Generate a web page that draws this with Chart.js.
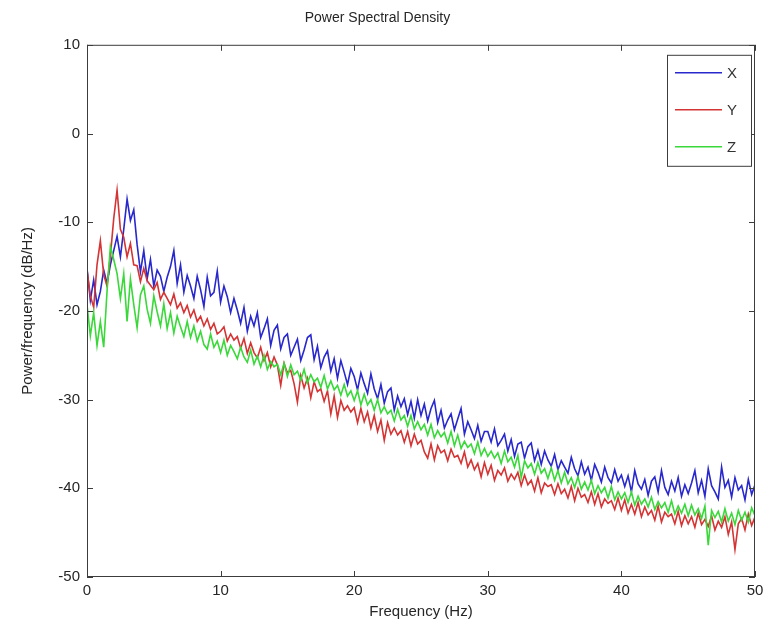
<!DOCTYPE html>
<html>
<head>
<meta charset="utf-8">
<script src="https://cdn.jsdelivr.net/npm/chart.js@4.4.0/dist/chart.umd.min.js"></script>
<style>
  html, body { margin: 0; padding: 0; background: #fff; }
  #wrap { width: 778px; height: 641px; }
</style>
</head>
<body>
<div id="wrap"><canvas id="psdChart" width="778" height="641"></canvas></div>
<script>
// frequency grid spacing (Hz) of the sampled PSD values below
var freqStep = 0.25;
var xTicks = [0, 10, 20, 30, 40, 50];
var yTicks = [-50, -40, -30, -20, -10, 0, 10];
var seriesNames = ['X', 'Y', 'Z'];

// one row = 5 Hz (20 samples), last value is 50 Hz
var psdX = [
  -15.2,-18.8,-16.5,-19.3,-17.8,-15.4,-16.9,-14.8,-13.2,-11.6,-13.9,-10.8,-7.4,-9.8,-8.6,-12.5,-15.6,-13.2,-16.4,-14.2,
  -17.2,-15.4,-16.1,-17.8,-16.2,-15.0,-13.2,-16.9,-14.8,-17.9,-16.0,-17.2,-18.6,-16.1,-17.6,-19.5,-16.2,-18.3,-17.9,-15.5,
  -19.0,-17.2,-18.4,-20.2,-18.6,-19.9,-21.4,-19.6,-22.3,-20.6,-21.7,-20.2,-23.0,-22.0,-20.9,-23.9,-22.2,-21.6,-24.3,-23.0,
  -22.6,-25.0,-24.1,-23.2,-25.6,-24.4,-23.0,-22.7,-25.5,-24.0,-26.4,-25.2,-24.5,-26.8,-25.4,-27.6,-25.6,-26.9,-28.3,-26.5,
  -27.4,-28.9,-27.0,-28.2,-29.3,-27.1,-28.8,-29.9,-28.3,-30.4,-29.1,-28.7,-31.2,-29.6,-30.8,-29.9,-31.7,-30.2,-32.1,-30.0,
  -31.8,-30.5,-32.4,-31.0,-30.1,-32.6,-31.2,-33.2,-32.3,-31.6,-33.4,-32.2,-31.0,-33.9,-32.5,-33.4,-34.4,-32.9,-34.7,-33.6,
  -33.6,-34.8,-33.3,-35.2,-34.6,-33.9,-35.8,-34.5,-36.4,-35.0,-34.8,-36.6,-35.3,-34.9,-36.9,-35.7,-37.3,-35.8,-36.8,-37.5,
  -36.2,-37.9,-36.9,-37.6,-38.3,-36.5,-37.8,-38.6,-37.0,-38.4,-37.6,-39.1,-37.3,-38.2,-39.3,-37.6,-38.8,-39.4,-37.9,-39.2,
  -38.5,-39.8,-38.6,-40.4,-38.0,-39.5,-40.1,-39.0,-40.8,-39.2,-38.7,-40.4,-38.0,-39.9,-40.7,-39.2,-40.3,-38.8,-40.9,-39.6,
  -40.6,-39.4,-38.0,-40.5,-39.1,-40.9,-37.8,-39.7,-40.4,-41.2,-37.6,-39.9,-39.1,-41.0,-38.8,-40.2,-39.7,-41.3,-39.0,-40.7,
  -39.6
];
var psdY = [
  -15.4,-18.3,-19.6,-14.8,-12.1,-15.9,-17.2,-13.8,-9.6,-6.4,-10.8,-11.7,-13.9,-12.4,-14.8,-14.9,-16.7,-15.2,-16.6,-17.1,
  -17.6,-16.8,-18.7,-17.9,-18.6,-19.3,-18.1,-19.7,-19.1,-20.2,-19.4,-20.7,-19.9,-21.2,-20.6,-21.7,-20.9,-22.1,-21.4,-22.6,
  -22.3,-21.8,-23.4,-22.6,-23.3,-22.9,-24.2,-23.1,-24.8,-23.6,-24.7,-25.3,-24.1,-25.6,-24.7,-26.3,-25.2,-26.1,-28.4,-25.9,
  -27.0,-26.7,-28.2,-30.3,-27.3,-28.7,-27.6,-29.8,-28.0,-29.1,-28.8,-30.2,-29.0,-31.6,-29.6,-32.0,-30.1,-31.2,-30.7,-31.4,
  -30.9,-32.6,-31.0,-32.5,-31.4,-33.2,-31.8,-33.6,-32.3,-34.6,-32.6,-33.9,-33.2,-34.0,-33.5,-34.8,-33.6,-35.2,-33.9,-35.0,
  -34.6,-35.9,-36.6,-35.0,-36.8,-35.2,-36.0,-35.7,-36.9,-35.6,-36.5,-36.3,-37.2,-35.9,-37.6,-36.8,-37.9,-37.2,-38.7,-37.1,
  -38.4,-37.4,-39.1,-38.0,-38.5,-37.7,-39.2,-38.4,-39.0,-38.2,-39.7,-38.5,-39.6,-39.1,-40.3,-38.8,-40.5,-39.4,-39.8,-39.6,
  -40.7,-39.5,-40.6,-40.1,-41.1,-39.8,-41.4,-40.0,-41.0,-40.7,-41.6,-40.4,-41.8,-40.6,-42.1,-41.2,-41.7,-41.4,-42.4,-41.1,
  -42.5,-41.3,-42.8,-41.8,-42.9,-41.6,-43.2,-42.1,-43.0,-42.5,-43.6,-42.0,-43.8,-42.7,-43.2,-42.9,-44.0,-42.6,-44.2,-43.1,
  -44.0,-43.2,-44.4,-42.8,-44.1,-43.5,-44.3,-43.1,-44.7,-43.7,-44.4,-43.2,-45.2,-43.8,-46.9,-44.0,-43.4,-44.7,-42.9,-44.2,
  -43.2
];
var psdZ = [
  -19.3,-22.8,-20.2,-23.9,-21.2,-24.1,-17.8,-12.7,-14.2,-15.8,-18.6,-15.8,-21.2,-16.4,-19.3,-21.9,-18.2,-17.2,-19.8,-21.4,
  -18.3,-20.1,-21.7,-19.2,-22.0,-20.2,-22.5,-20.6,-21.8,-22.9,-21.2,-23.0,-21.7,-23.4,-22.3,-23.8,-24.3,-22.6,-24.1,-23.4,
  -24.7,-23.3,-25.0,-23.9,-24.6,-25.4,-24.1,-25.2,-25.8,-24.4,-26.0,-25.1,-26.3,-25.0,-26.6,-25.7,-26.3,-26.0,-27.2,-25.9,
  -27.4,-26.1,-27.2,-26.8,-27.8,-26.6,-28.1,-27.2,-28.0,-27.6,-28.6,-27.3,-28.8,-27.9,-28.9,-28.4,-29.5,-28.3,-29.6,-29.0,
  -30.1,-29.0,-30.6,-29.4,-30.6,-30.0,-31.2,-30.0,-31.5,-30.8,-31.6,-31.2,-32.4,-31.1,-32.3,-31.8,-33.0,-31.8,-33.3,-32.5,
  -33.4,-32.8,-34.0,-32.8,-34.3,-33.5,-34.2,-33.7,-34.9,-33.6,-35.2,-34.0,-35.5,-34.7,-35.4,-35.0,-36.1,-34.8,-36.3,-35.5,
  -36.4,-35.8,-36.6,-36.0,-37.2,-35.8,-37.0,-36.5,-37.6,-36.3,-38.8,-36.9,-37.7,-37.2,-38.4,-37.1,-38.3,-37.8,-38.9,-37.7,
  -39.1,-38.0,-39.4,-38.2,-39.5,-38.8,-39.9,-38.7,-40.1,-39.3,-40.2,-39.1,-40.6,-39.7,-40.5,-39.9,-41.1,-39.8,-41.3,-40.4,
  -41.2,-40.5,-41.6,-40.4,-41.9,-40.9,-41.8,-41.2,-42.1,-41.0,-42.4,-41.5,-42.2,-41.6,-42.7,-41.4,-42.9,-42.0,-42.8,-41.8,
  -43.1,-41.9,-43.0,-42.3,-43.4,-42.0,-46.4,-42.5,-43.3,-42.6,-43.8,-42.3,-43.7,-42.8,-44.1,-42.5,-43.6,-42.7,-43.8,-42.2,
  -43.1
];

var lineColors = ['#2828cc', '#d43434', '#3ad83a'];
var textFont = "'Liberation Sans', Arial, sans-serif";

function toPoints(vals) {
  return vals.map(function(v, i) { return { x: i * freqStep, y: v }; });
}

// MATLAB style box, inward ticks and boxed legend
var matlabAxes = {
  id: 'matlabAxes',
  afterDatasetsDraw: function(chart) {
    var ctx = chart.ctx, a = chart.chartArea;
    var xs = chart.scales.x, ys = chart.scales.y;
    var tl = 6;
    ctx.save();
    ctx.strokeStyle = '#3c3c3c';
    ctx.lineWidth = 1;
    ctx.strokeRect(a.left + 0.5, a.top + 0.5, a.right - a.left - 1, a.bottom - a.top - 1);
    ctx.beginPath();
    xTicks.forEach(function(t) {
      var px = Math.round(xs.getPixelForValue(t)) + 0.5;
      ctx.moveTo(px, a.bottom); ctx.lineTo(px, a.bottom - tl);
      ctx.moveTo(px, a.top); ctx.lineTo(px, a.top + tl);
    });
    yTicks.forEach(function(t) {
      var py = Math.round(ys.getPixelForValue(t)) + 0.5;
      ctx.moveTo(a.left, py); ctx.lineTo(a.left + tl, py);
      ctx.moveTo(a.right, py); ctx.lineTo(a.right - tl, py);
    });
    ctx.stroke();

    // legend
    var bw = 84, bh = 111;
    var bx = a.right - bw - 4, by = a.top + 10;
    ctx.fillStyle = '#fff';
    ctx.fillRect(bx, by, bw, bh);
    ctx.strokeStyle = '#3c3c3c';
    ctx.strokeRect(bx + 0.5, by + 0.5, bw, bh);
    ctx.font = '15px ' + textFont;
    ctx.textBaseline = 'middle';
    ctx.textAlign = 'left';
    chart.data.datasets.forEach(function(ds, i) {
      var iy = by + 18 + i * 37;
      ctx.strokeStyle = ds.borderColor;
      ctx.lineWidth = 1.5;
      ctx.beginPath();
      ctx.moveTo(bx + 8, iy); ctx.lineTo(bx + 55, iy);
      ctx.stroke();
      ctx.fillStyle = '#333';
      ctx.fillText(ds.label, bx + 60, iy + 1);
    });
    ctx.restore();
  }
};

var chart = new Chart(document.getElementById('psdChart'), {
  type: 'line',
  data: {
    datasets: [
      { label: seriesNames[0], data: toPoints(psdX), borderColor: lineColors[0], order: 3 },
      { label: seriesNames[1], data: toPoints(psdY), borderColor: lineColors[1], order: 2 },
      { label: seriesNames[2], data: toPoints(psdZ), borderColor: lineColors[2], order: 1 }
    ]
  },
  options: {
    responsive: false,
    animation: false,
    events: [],
    layout: { padding: { left: 0, right: 23, top: 0, bottom: 0 } },
    elements: {
      point: { radius: 0 },
      line: { borderWidth: 1.6, tension: 0, fill: false }
    },
    plugins: {
      legend: { display: false },
      tooltip: { enabled: false },
      title: {
        display: true,
        text: 'Power Spectral Density',
        color: '#262626',
        font: { family: textFont, size: 14, weight: 'normal' },
        padding: { top: 10, bottom: 18 }
      }
    },
    scales: {
      x: {
        type: 'linear',
        min: 0, max: 50,
        afterFit: function(s) { s.height = 64; },
        afterBuildTicks: function(s) { s.ticks = xTicks.map(function(v) { return { value: v }; }); },
        grid: { display: false, drawTicks: false },
        border: { display: false },
        ticks: { color: '#262626', padding: 5, maxRotation: 0, font: { family: textFont, size: 15 } },
        title: {
          display: true, text: 'Frequency (Hz)', color: '#262626',
          font: { family: textFont, size: 15 }, padding: { top: 20, bottom: 20 }
        }
      },
      y: {
        min: -50, max: 10,
        afterFit: function(s) { s.width = 87; },
        afterBuildTicks: function(s) { s.ticks = yTicks.map(function(v) { return { value: v }; }); },
        grid: { display: false, drawTicks: false },
        border: { display: false },
        ticks: { color: '#262626', padding: 7, font: { family: textFont, size: 15 } },
        title: {
          display: true, text: 'Power/frequency (dB/Hz)', color: '#262626',
          font: { family: textFont, size: 15 }, padding: { top: 19, bottom: 19 }
        }
      }
    }
  },
  plugins: [matlabAxes]
});
</script>
</body>
</html>
